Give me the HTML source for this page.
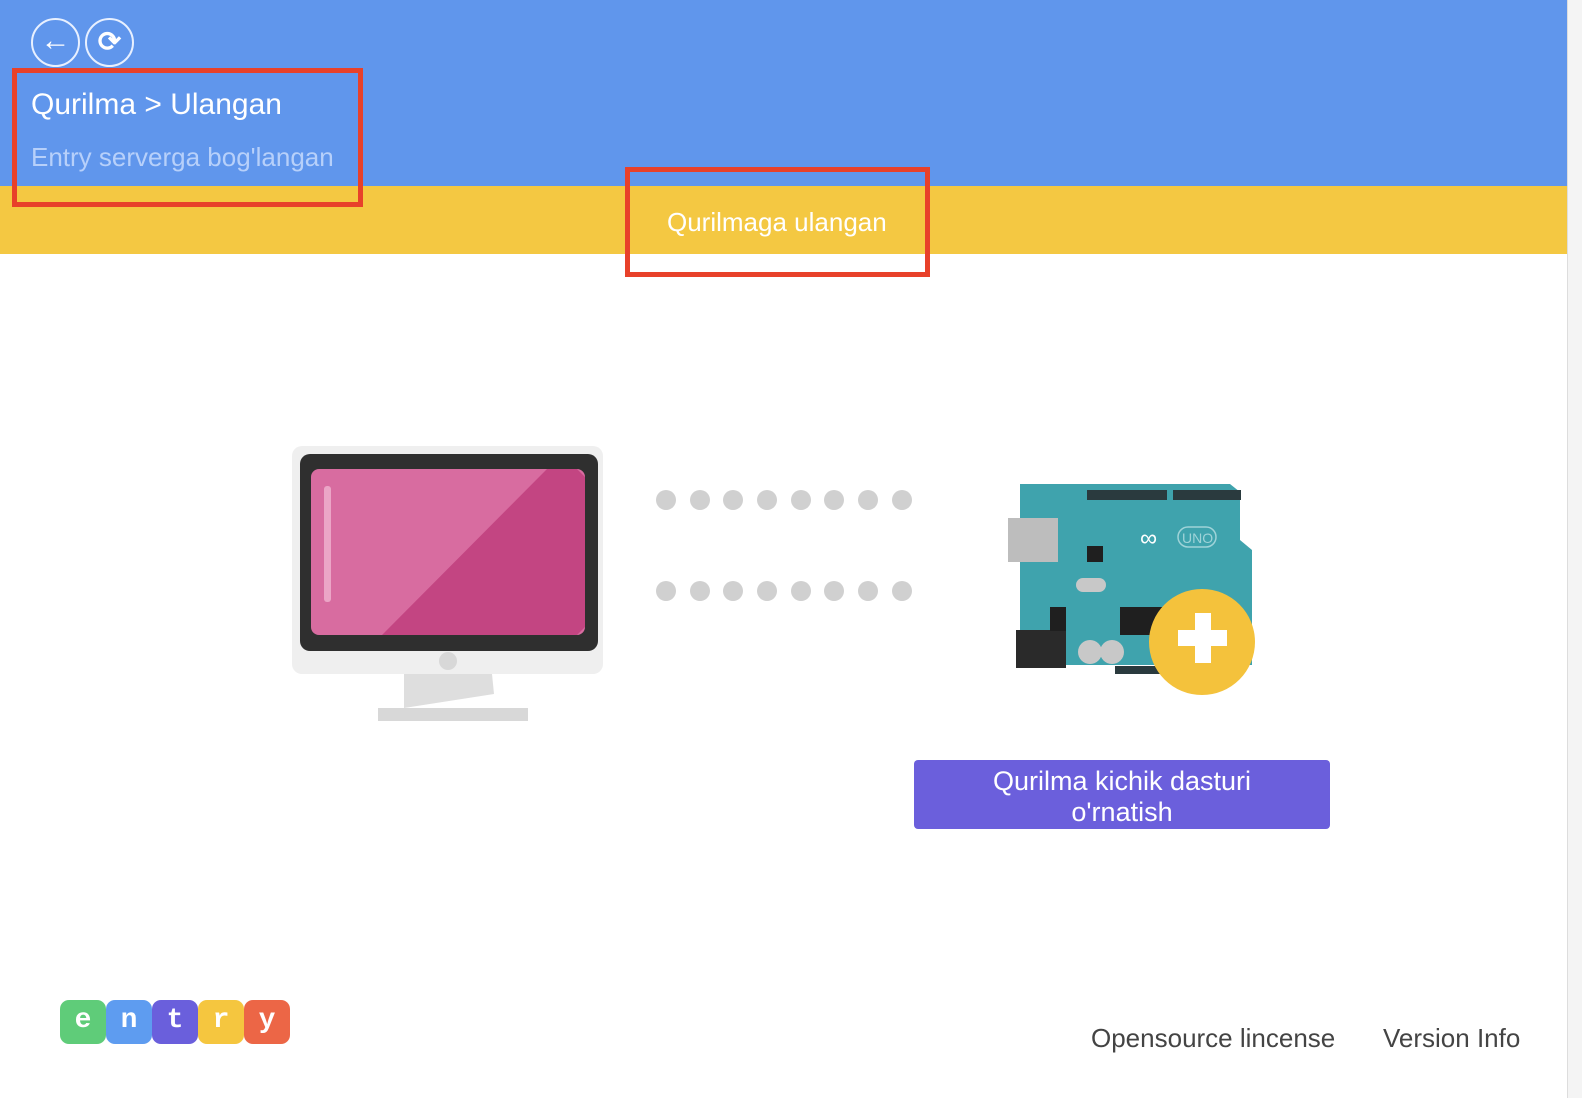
<!DOCTYPE html>
<html><head><meta charset="utf-8"><style>
*{margin:0;padding:0;box-sizing:border-box}
body{width:1582px;height:1098px;position:relative;overflow:hidden;background:#fff;font-family:"Liberation Sans","Noto Sans CJK KR",sans-serif}
.abs{position:absolute}
.dot{position:absolute;width:20px;height:20px;border-radius:50%;background:#d0d0d0}
.lg{width:46px;height:44px;border-radius:9px;color:#fff;font:bold 28px/42px 'Liberation Mono',monospace;text-align:center}
</style></head><body>
<div class="abs" style="left:0;top:0;width:1568px;height:186px;background:#6096ec"></div>
<div class="abs" style="left:0;top:186px;width:1568px;height:68px;background:#f4c842"></div>
<div class="abs" style="left:1568px;top:0;width:14px;height:1098px;background:#f4f4f4"></div>
<div class="abs" style="left:1567px;top:0;width:1px;height:1098px;background:#ddd"></div>
<div class="abs" style="left:31px;top:18px;width:49px;height:49px;border:2px solid #e8f0ff;border-radius:50%;color:#fff;font-size:30px;line-height:42px;text-align:center;font-weight:bold">←</div>
<div class="abs" style="left:85px;top:18px;width:49px;height:49px;border:2px solid #e8f0ff;border-radius:50%;color:#fff;font-size:28px;line-height:44px;text-align:center;font-weight:bold">⟳</div>
<div class="abs" style="left:12px;top:68px;width:351px;height:139px;border:5px solid #e8412a"></div>
<div class="abs" style="left:31px;top:88px;color:#fff;font-size:30px">Qurilma &gt; Ulangan</div>
<div class="abs" style="left:31px;top:142px;color:#b7d0fa;font-size:26px">Entry serverga bog'langan</div>
<div class="abs" style="left:625px;top:167px;width:305px;height:110px;border:5px solid #e8412a"></div>
<div class="abs" style="left:667px;top:207px;color:#fff;font-size:26px">Qurilmaga ulangan</div>
<svg class="abs" style="left:292px;top:446px" width="312" height="280">
<rect x="0" y="0" width="311" height="228" rx="10" fill="#efefef"/>
<rect x="8" y="8" width="298" height="197" rx="10" fill="#2f2f2f"/>
<rect x="19" y="23" width="274" height="166" rx="8" fill="#d86ca0"/>
<polygon points="255,23 285,23 293,31 293,181 285,189 90,189" fill="#c34582"/>
<rect x="32" y="40" width="7" height="116" rx="3" fill="#eba5c6"/>
<circle cx="156" cy="215" r="9" fill="#d8d8d8"/>
<polygon points="112,228 200,228 202,248 112,262" fill="#dedede"/>
<rect x="86" y="262" width="150" height="13" fill="#d8d8d8"/>
</svg>
<div class="dot" style="left:656px;top:490px"></div><div class="dot" style="left:690px;top:490px"></div><div class="dot" style="left:723px;top:490px"></div><div class="dot" style="left:757px;top:490px"></div><div class="dot" style="left:791px;top:490px"></div><div class="dot" style="left:824px;top:490px"></div><div class="dot" style="left:858px;top:490px"></div><div class="dot" style="left:892px;top:490px"></div>
<div class="dot" style="left:656px;top:581px"></div><div class="dot" style="left:690px;top:581px"></div><div class="dot" style="left:723px;top:581px"></div><div class="dot" style="left:757px;top:581px"></div><div class="dot" style="left:791px;top:581px"></div><div class="dot" style="left:824px;top:581px"></div><div class="dot" style="left:858px;top:581px"></div><div class="dot" style="left:892px;top:581px"></div>
<svg class="abs" style="left:990px;top:470px" width="280" height="240">
<path d="M30,14 L240,14 L250,22 L250,70 L262,80 L262,195 L30,195 Z" fill="#3fa3ad"/>
<rect x="18" y="48" width="50" height="44" fill="#bdbdbd"/>
<rect x="97" y="20" width="80" height="10" fill="#2a3a3e"/>
<rect x="183" y="20" width="68" height="10" fill="#2a3a3e"/>
<rect x="26" y="160" width="50" height="38" fill="#2a2a2a"/>
<rect x="86" y="108" width="30" height="14" rx="7" fill="#c8c8c8"/>
<circle cx="100" cy="182" r="12" fill="#c8c8c8"/><circle cx="122" cy="182" r="12" fill="#c8c8c8"/>
<rect x="130" y="137" width="60" height="28" fill="#1f1f1f"/>
<rect x="60" y="137" width="16" height="24" fill="#1f1f1f"/>
<rect x="97" y="76" width="16" height="16" fill="#1f1f1f"/>
<rect x="125" y="196" width="60" height="8" fill="#2a3a3e"/>
<text x="150" y="76" font-size="24" fill="#fff" font-family="Liberation Sans,sans-serif">∞</text>
<rect x="188" y="57" width="38" height="20" rx="10" fill="none" stroke="#9fd3d8" stroke-width="1.5"/>
<text x="192" y="73" font-size="14" fill="#9fd3d8" font-family="Liberation Sans,sans-serif">UNO</text>
<circle cx="212" cy="172" r="53" fill="#f4c23c"/>
<rect x="188" y="160" width="49" height="16" fill="#fff"/>
<rect x="205" y="143" width="16" height="50" fill="#fff"/>
</svg>
<div class="abs" style="left:914px;top:760px;width:416px;height:69px;background:#6b5fdc;border-radius:4px;color:#fff;font-size:27px;line-height:31px;text-align:center;padding-top:6px">Qurilma kichik dasturi<br>o'rnatish</div>
<div class="abs" style="left:60px;top:1000px;display:flex">
<div class="lg" style="background:#5fcc79">e</div>
<div class="lg" style="background:#5e9cf0">n</div>
<div class="lg" style="background:#6a5fdc">t</div>
<div class="lg" style="background:#f5c63f">r</div>
<div class="lg" style="background:#ec6646">y</div>
</div>
<div class="abs" style="left:1091px;top:1023px;color:#444;font-size:26px">Opensource lincense</div>
<div class="abs" style="left:1383px;top:1023px;color:#444;font-size:26px">Version Info</div>
</body></html>
